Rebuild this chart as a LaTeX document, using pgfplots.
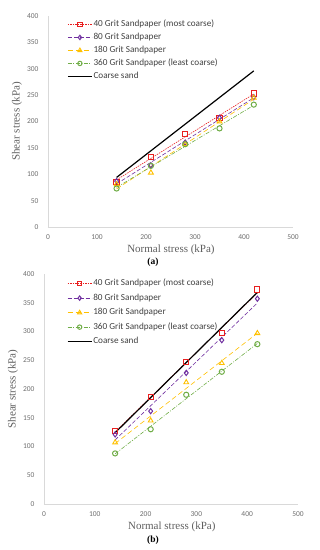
\documentclass[border=0pt]{standalone}
\usepackage{fontspec}
\setmainfont{Carlito}
\newfontfamily\serifl{Liberation Serif}
\usepackage{pgfplots}
\pgfplotsset{compat=1.18}
\definecolor{cRed}{RGB}{232,32,32}
\definecolor{cPur}{RGB}{112,48,160}
\definecolor{cYel}{RGB}{255,192,0}
\definecolor{cGrn}{RGB}{112,173,71}
\definecolor{axgray}{RGB}{217,217,217}
\definecolor{txgray}{RGB}{110,110,110}
\definecolor{lblgray}{RGB}{95,95,95}
\definecolor{lgtext}{RGB}{64,64,64}
\pgfplotsset{
  excel/.style={scale only axis, xmin=0, xmax=500, ymin=0, ymax=400,
    xtick={0,100,...,500}, ytick={0,50,...,400},
    axis x line=bottom, axis y line=left,
    axis line style={-, draw=axgray, line width=0.8pt},
    major tick length=0pt,
    tick label style={font=\fontsize{7.5}{8}\selectfont, text=txgray},
    xticklabel style={yshift=-4pt}, yticklabel style={xshift=-6pt},
    /pgf/number format/assume math mode=true,
    label style={font=\serifl\fontsize{11}{12}\selectfont, text=lblgray},
    xlabel={Normal stress (kPa)}, ylabel={Shear stress (kPa)},
    legend cell align=left,
    legend style={draw=none, fill=none, inner sep=0pt, font=\fontsize{9.2}{10}\selectfont, text=lgtext,
      nodes={inner sep=1pt, text height=6.5pt, text depth=2.5pt}, anchor=north west},
  },
  lgRed/.style={legend image code/.code={\draw[cRed, line width=0.6pt, dash pattern=on 1.5pt off 1pt] (0pt,0pt)--(24pt,0pt); \draw[cRed, line width=1pt, mark=square, mark size=2.2pt] plot coordinates {(12pt,0pt)};}},
  lgPur/.style={legend image code/.code={\draw[cPur, line width=0.6pt, dash pattern=on 4pt off 2pt] (0pt,0pt)--(24pt,0pt); \draw[cPur, line width=1pt, mark=diamond, mark size=2.2pt] plot coordinates {(12pt,0pt)};}},
  lgYel/.style={legend image code/.code={\draw[cYel, line width=0.6pt, dash pattern=on 5pt off 3pt] (0pt,0pt)--(24pt,0pt); \draw[cYel, line width=0.9pt, mark=triangle, mark size=2.4pt] plot coordinates {(12pt,0pt)};}},
  lgGrn/.style={legend image code/.code={\draw[cGrn, line width=0.6pt, dash pattern=on 4pt off 1.5pt on 1pt off 1.5pt] (0pt,0pt)--(24pt,0pt); \draw[cGrn, line width=1pt, mark=o, mark size=2.2pt] plot coordinates {(12pt,0pt)};}},
  lgBlk/.style={legend image code/.code={\draw[black, line width=1.2pt] (0pt,0pt)--(24pt,0pt);}},
  mRed/.style={only marks, cRed, mark=square, mark size=2.6pt, mark options={line width=1pt}},
  mPur/.style={only marks, cPur, mark=diamond, mark size=2.6pt, mark options={line width=1pt}},
  mYel/.style={only marks, cYel, mark=triangle, mark size=2.8pt, mark options={line width=0.9pt}},
  mGrn/.style={only marks, cGrn, mark=o, mark size=2.6pt, mark options={line width=1pt}},
  tRed/.style={cRed, line width=0.6pt, dash pattern=on 1.5pt off 1pt, forget plot},
  tPur/.style={cPur, line width=0.6pt, dash pattern=on 4pt off 2pt, forget plot},
  tYel/.style={cYel, line width=0.6pt, dash pattern=on 5pt off 3pt, forget plot},
  tGrn/.style={cGrn, line width=0.6pt, dash pattern=on 4pt off 1.5pt on 1pt off 1.5pt, forget plot},
}
\begin{document}
\begin{tikzpicture}
\useasboundingbox (0pt,0pt) rectangle (320pt,-550pt);
% ---------- (a) ----------
\begin{axis}[excel, at={(48pt,-227pt)}, anchor=south west, width=245pt, height=211pt,
  xlabel style={at={(axis description cs:0.502,-0.109)}, anchor=center},
  ylabel style={at={(axis description cs:-0.127,0.5)}, anchor=center},
  legend style={at={(axis description cs:0.078,0.987)}, row sep=2pt}]
\addplot[tRed] coordinates {(140,89.4) (420,252.2)};
\addplot[tPur] coordinates {(140,81.8) (420,245.0)};
\addplot[tYel] coordinates {(140,72.2) (420,242.2)};
\addplot[tGrn] coordinates {(140,75.2) (420,230.8)};
\addplot[mRed, lgRed] coordinates {(140,86) (210,133) (280,176) (350,206) (420,253)};
\addlegendentry{40 Grit Sandpaper (most coarse)}
\addplot[mPur, lgPur] coordinates {(140,87) (210,117) (280,160) (350,207) (420,246)};
\addlegendentry{80 Grit Sandpaper}
\addplot[mYel, lgYel] coordinates {(140,81) (210,103) (280,157) (350,200) (420,245)};
\addlegendentry{180 Grit Sandpaper}
\addplot[mGrn, lgGrn] coordinates {(140,73) (210,116) (280,157) (350,187) (420,232)};
\addlegendentry{360 Grit Sandpaper (least coarse)}
\addplot[black, line width=1.2pt, lgBlk] coordinates {(140,94) (420,296)};
\addlegendentry{Coarse sand}
\end{axis}
\node[font=\serifl\bfseries\fontsize{9.5}{10}\selectfont, text=black] at (153pt,-262pt) {(a)};
% ---------- (b) ----------
\begin{axis}[excel, at={(44pt,-504pt)}, anchor=south west, width=254pt, height=230pt,
  xlabel style={at={(axis description cs:0.503,-0.1)}, anchor=center},
  ylabel style={at={(axis description cs:-0.122,0.5)}, anchor=center},
  legend style={at={(axis description cs:0.09,0.983)}, row sep=3.5pt}]
\addplot[tRed] coordinates {(140,125.4) (420,367.0)};
\addplot[tPur] coordinates {(140,111.4) (420,349.6)};
\addplot[tYel] coordinates {(140,105.1) (420,297.1)};
\addplot[tGrn] coordinates {(140,87.2) (420,279.2)};
\addplot[mRed, lgRed] coordinates {(140,127) (210,186) (280,247) (350,298) (420,373)};
\addlegendentry{40 Grit Sandpaper (most coarse)}
\addplot[mPur, lgPur] coordinates {(140,121) (210,161.5) (280,228) (350,285) (420,357)};
\addlegendentry{80 Grit Sandpaper}
\addplot[mYel, lgYel] coordinates {(140,107) (210,145) (280,211.5) (350,245) (420,297)};
\addlegendentry{180 Grit Sandpaper}
\addplot[mGrn, lgGrn] coordinates {(140,88) (210,130) (280,190) (350,230) (420,278)};
\addlegendentry{360 Grit Sandpaper (least coarse)}
\addplot[black, line width=1.2pt, lgBlk] coordinates {(140,124) (420,368)};
\addlegendentry{Coarse sand}
\end{axis}
\node[font=\serifl\bfseries\fontsize{9.5}{10}\selectfont, text=black] at (153pt,-540pt) {(b)};
\end{tikzpicture}
\end{document}
